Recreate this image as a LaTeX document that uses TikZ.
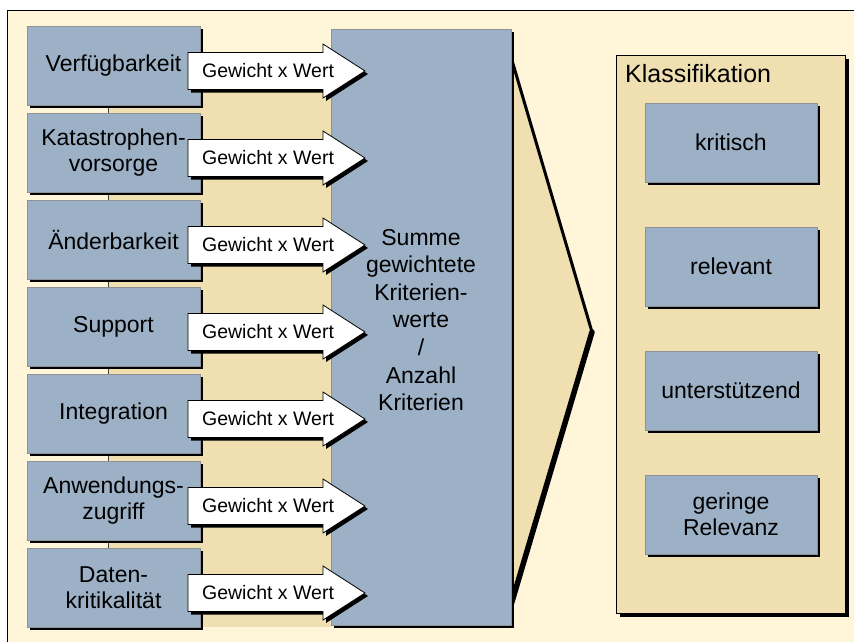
\documentclass[tikz,border=0pt]{standalone}
\usepackage{fontspec}
\setmainfont{Liberation Sans}
\usetikzlibrary{shadows}
\definecolor{cream}{HTML}{FFF5D9}
\definecolor{tan}{HTML}{EFDFB1}
\definecolor{steel}{HTML}{9CB1C6}
\definecolor{boxedge}{HTML}{8E9196}
\begin{document}
\begin{tikzpicture}[x=1pt,y=-1pt,
  shadowed/.style={drop shadow={shadow xshift=3pt, shadow yshift=-3pt, fill=black, opacity=1}},
  critbox/.style={shadowed, draw=boxedge, line width=0.8pt, fill=steel,
    minimum width=173pt, minimum height=79pt, inner sep=0pt, align=center,
    font=\fontsize{23}{26.5}\selectfont},
  classbox/.style={critbox, minimum width=172pt},
  wlabel/.style={inner sep=0pt, font=\fontsize{19.5}{22}\selectfont},
  wtarrow/.pic={
    \fill[black, shift={(3,3)}] (188,-18.5) -- (323,-18.5) -- (323,-27) -- (365,0)
      -- (323,27) -- (323,18.5) -- (188,18.5) -- cycle;
    \draw[fill=white, line width=0.8pt] (188,-18.5) -- (323,-18.5) -- (323,-27) -- (365,0)
      -- (323,27) -- (323,18.5) -- (188,18.5) -- cycle;
  }]
\useasboundingbox (0,0) rectangle (854,641);

% background panel, open to the right and bottom
\begin{scope}
  \clip (0,0) rectangle (854,641);
  \draw[fill=cream, line width=1pt] (7,10) rectangle (900,700);
\end{scope}

% tan band behind the criteria column
\fill[tan] (108,60) rectangle (331,627);
\draw[black!75, line width=0.8pt] (108,60) -- (108,627);

% chevron pointing to the classification
\coordinate (ct) at (511,57);
\coordinate (cp) at (592,332);
\coordinate (cb) at (511,605);
\fill[tan] (ct) -- (cp) -- (cb) -- cycle;
\draw[line width=3pt] (ct) -- (cp);
\draw[line width=5.5pt, line cap=round] (cp) -- (cb);

% aggregation box
\node[shadowed, draw=boxedge, line width=0.8pt, fill=steel,
  minimum width=180pt, minimum height=596pt, inner sep=0pt] (sum) at (421,327) {};
\node[align=center, inner sep=0pt, font=\fontsize{23}{27.6}\selectfont] (sumtext) at (421,320)
  {Summe\\gewichtete\\Kriterien-\\werte\\/\\Anzahl\\Kriterien};

% criteria with weighted arrows
\foreach \i/\lab in {0/Verfügbarkeit, 1/{Katastrophen-\\vorsorge}, 2/Änderbarkeit,
    3/Support, 4/Integration, 5/{Anwendungs-\\zugriff}, 6/{Daten-\\kritikalität}} {
  \pgfmathsetmacro\ry{26+87*\i}
  \pgfmathsetmacro\cy{\ry+45}
  \node[critbox] (b\i) at (113.5,\ry+39.5) {\lab};
  \pic at (0,\cy) {wtarrow};
  \node[wlabel] (w\i) at (268,\cy) {Gewicht x Wert};
}

% classification panel
\node[drop shadow={shadow xshift=4pt, shadow yshift=-4pt, fill=black, opacity=1},
  draw=black, line width=1pt, fill=tan, minimum width=229pt, minimum height=558pt,
  inner sep=0pt] (klass) at (730.5,334) {};
\node[anchor=base west, inner sep=0pt, font=\fontsize{25}{28}\selectfont] (klasstitle)
  at (625,82) {Klassifikation};
\node[classbox] (k0) at (731,142.5) {kritisch};
\node[classbox] (k1) at (731,266.5) {relevant};
\node[classbox] (k2) at (731,390.5) {unterstützend};
\node[classbox] (k3) at (731,514.5) {geringe\\Relevanz};
\end{tikzpicture}
\end{document}
